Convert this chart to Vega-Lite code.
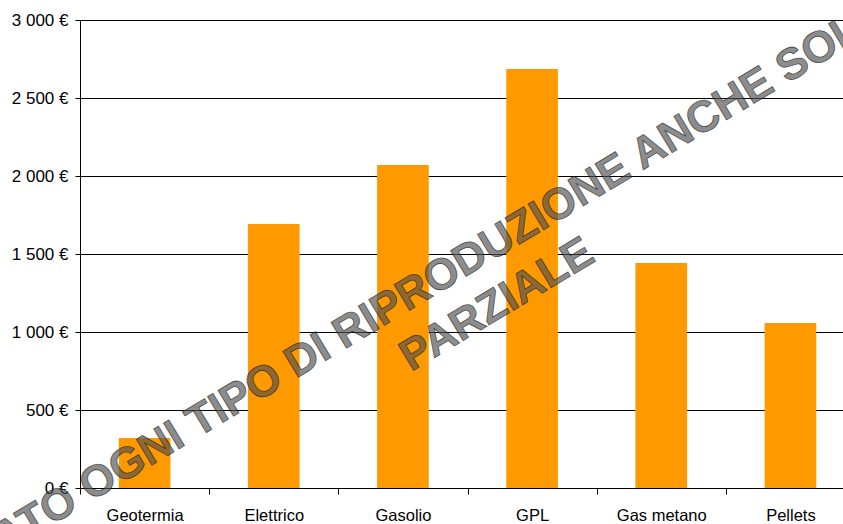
{
  "$schema": "https://vega.github.io/schema/vega-lite/v6.json",
  "autosize": {"type": "none"},
  "padding": {"left": 80, "top": 20, "right": 0, "bottom": 36},
  "width": 775,
  "height": 468,
  "background": "white",
  "config": {"view": {"stroke": null}, "font": "Liberation Sans"},
  "layer": [
    {
      "data": {"values": [
        {"fonte": "Geotermia", "costo": 320},
        {"fonte": "Elettrico", "costo": 1692},
        {"fonte": "Gasolio", "costo": 2071},
        {"fonte": "GPL", "costo": 2686},
        {"fonte": "Gas metano", "costo": 1442},
        {"fonte": "Pellets", "costo": 1058}
      ]},
      "mark": {"type": "bar", "color": "#FF9900", "width": {"band": 0.4}},
      "encoding": {
        "x": {
          "field": "fonte", "type": "nominal", "sort": null,
          "scale": {"paddingInner": 0, "paddingOuter": 0},
          "axis": {"title": null, "labelAngle": 0, "tickBand": "extent", "tickSize": 6, "domainColor": "#000", "tickColor": "#000", "labelFontSize": 16.5, "labelColor": "#000", "labelPadding": 13, "grid": false}
        },
        "y": {
          "field": "costo", "type": "quantitative",
          "scale": {"domain": [0, 3000], "nice": false},
          "axis": {"title": null, "values": [0, 500, 1000, 1500, 2000, 2500, 3000], "grid": true, "gridColor": "#000", "gridWidth": 1, "domainColor": "#000", "tickColor": "#000", "tickSize": 5, "labelPadding": 7, "labelFontSize": 17, "labelColor": "#000", "labelExpr": "replace(format(datum.value, ','), ',', ' ') + ' €'"}
        }
      }
    },
    {
      "data": {"values": [
        {"testo": "VIETATO OGNI TIPO DI RIPRODUZIONE ANCHE SOLO", "pos": 2.49, "livello": 1205},
        {"testo": "PARZIALE", "pos": 3.23, "livello": 1173}
      ]},
      "mark": {"type": "text", "angle": 329, "font": "Liberation Sans", "fontWeight": "bold", "fontSize": 44, "fill": "#505050", "fillOpacity": 0.68, "stroke": "#111111", "strokeWidth": 0.8, "strokeOpacity": 0.65, "align": "center", "baseline": "middle"},
      "encoding": {
        "x": {"field": "pos", "type": "quantitative", "scale": {"domain": [0, 6], "nice": false, "zero": false}, "axis": null},
        "y": {"field": "livello", "type": "quantitative"},
        "text": {"field": "testo"}
      }
    }
  ],
  "resolve": {"scale": {"x": "independent"}}
}
